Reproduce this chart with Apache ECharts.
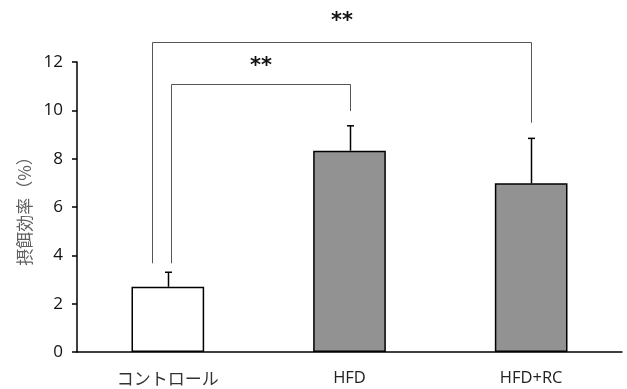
<!DOCTYPE html>
<html><head><meta charset="utf-8">
<script src="https://cdn.jsdelivr.net/npm/echarts@6/dist/echarts.min.js"></script>
<style>html,body{margin:0;padding:0;background:#fff}#c{width:627px;height:389px}</style>
</head><body><div id="c"></div>
<script>
const categories = ['コントロール', 'HFD', 'HFD+RC'];
const means = [2.70, 8.33, 6.98];
const errUpper = [3.30, 9.36, 8.84];
const barColors = ['#ffffff', '#929292', '#929292'];
const yTicks = [0, 2, 4, 6, 8, 10, 12];
// significance brackets
const bracketFrom = [0, 0];
const bracketTo = [1, 2];
const bracketLevel = [11.07, 12.84];
const bracketLeftEnd = [3.67, 3.67];
const bracketRightEnd = [9.97, 9.49];
const bracketLabels = ['**', '**'];
const legOffsets = [3.5, -16]; // pixel offset of left leg from category centre
const labelOffsets = [17.5, 20.5];

const chart = echarts.init(document.getElementById('c'), null, {renderer: 'canvas'});
const font = '"Open Sans", "Noto Sans CJK JP", sans-serif';

chart.setOption({
  animation: false,
  backgroundColor: '#ffffff',
  grid: {left: 77, right: 5, top: 62, bottom: 37},
  xAxis: {
    type: 'category', data: categories,
    axisLine: {lineStyle: {color: '#000', width: 1.5}},
    axisTick: {show: false},
    axisLabel: {
      color: '#222', fontSize: 16.5, fontFamily: font, margin: 18,
      formatter: function (v) { return /[\u3000-\u30ff]/.test(v) ? '{jp|' + v + '}' : v; },
      rich: {jp: {fontSize: 17, color: '#333', fontFamily: '"Noto Sans CJK JP", sans-serif'}}
    }
  },
  yAxis: {
    type: 'value', min: yTicks[0], max: yTicks[yTicks.length - 1], interval: 2,
    name: '摂餌効率（%）', nameLocation: 'middle', nameGap: 43, nameRotate: 90,
    nameTextStyle: {color: '#5f5f5f', fontSize: 17, fontFamily: '"Noto Sans CJK JP", sans-serif'},
    axisLine: {show: true, lineStyle: {color: '#000', width: 1.5}},
    axisTick: {show: true, length: 5, lineStyle: {color: '#000', width: 1.5}},
    axisLabel: {color: '#111', fontSize: 17, fontFamily: font, margin: 14},
    splitLine: {show: false}
  },
  series: [
    {
      type: 'bar', barWidth: '40%',
      data: means.map((v, i) => ({value: v, itemStyle: {color: barColors[i]}})),
      itemStyle: {borderColor: '#000', borderWidth: 1.5}
    },
    {
      type: 'custom', clip: false, z: 5,
      data: means.map((v, i) => [i, v, errUpper[i]]),
      renderItem: function (params, api) {
        const p0 = api.coord([api.value(0), api.value(1)]);
        const p1 = api.coord([api.value(0), api.value(2)]);
        const x = Math.round(p0[0]) + 0.5;
        return {type: 'group', children: [
          {type: 'line', shape: {x1: x, y1: p0[1], x2: x, y2: p1[1]}, style: {stroke: '#000', lineWidth: 1.5}},
          {type: 'line', shape: {x1: x - 3.5, y1: p1[1], x2: x + 3.5, y2: p1[1]}, style: {stroke: '#000', lineWidth: 1.5}}
        ]};
      }
    },
    {
      type: 'custom', clip: false, z: 6,
      data: bracketFrom.map((f, i) => [f, bracketTo[i], bracketLevel[i], bracketLeftEnd[i], bracketRightEnd[i], i]),
      renderItem: function (params, api) {
        const i = api.value(5);
        const a = api.coord([api.value(0), api.value(2)]);
        const b = api.coord([api.value(1), api.value(2)]);
        const aEnd = api.coord([api.value(0), api.value(3)]);
        const bEnd = api.coord([api.value(1), api.value(4)]);
        const xl = Math.round(a[0] + legOffsets[i]) + 0.5;
        const xr = Math.round(b[0]) + 0.5;
        const y = Math.round(a[1]) + 0.5;
        return {type: 'group', children: [
          {type: 'polyline', shape: {points: [[xl, aEnd[1]], [xl, y], [xr, y], [xr, bEnd[1]]]},
           style: {stroke: '#555', lineWidth: 1, fill: null}},
          {type: 'text', x: (xl + xr) / 2, y: y - labelOffsets[i],
           style: {text: bracketLabels[i], fill: '#111', fontSize: 21, fontWeight: 'bold',
                   fontFamily: '"DejaVu Sans", sans-serif', align: 'center', verticalAlign: 'middle'}}
        ]};
      }
    }
  ]
});
</script></body></html>
